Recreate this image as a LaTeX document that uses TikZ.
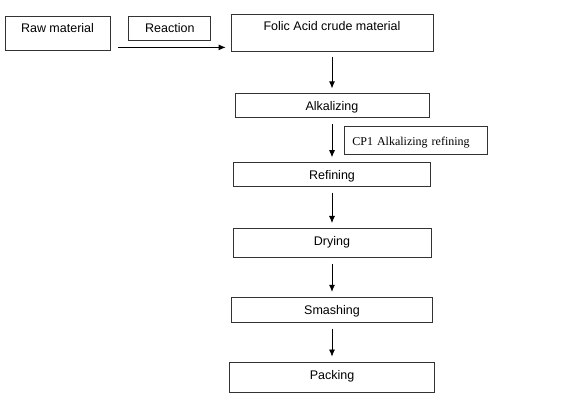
\documentclass[tikz,border=0pt]{standalone}
\usepackage{fontspec}
\setmainfont{Liberation Sans}
\newfontfamily\serifcp{Liberation Serif}
\usetikzlibrary{positioning, arrows.meta}

\begin{document}
\begin{tikzpicture}[x=1pt, y=1pt, node distance={42pt}, >={Latex[length=7pt,width=6pt]},
	box/.style = {draw=black!80, line width=0.8pt, inner sep=3pt, text height=9pt, text depth=0pt,
		font=\fontsize{12.5}{15}\selectfont},
	flow/.style = {->, line width=0.8pt, shorten <=6pt, shorten >=5pt}]
	\useasboundingbox (0,0) rectangle (573,-411);
	\node[box, minimum width=105pt, minimum height=34pt, text depth=10pt] (raw) at (57.5,-33) {Raw material};
	\node[box, minimum width=82pt, minimum height=24pt, anchor=north west] (react) at ([xshift=18pt]raw.north east) {Reaction};
	\node[box, minimum width=202pt, minimum height=37pt, text depth=13pt] (folic) at (332,-32.5) {Folic Acid crude material};
	\node[box, minimum width=194pt, minimum height=24pt] (alk) [below=of folic] {Alkalizing};
	\node[box, minimum height=28pt, text width=127pt, inner xsep=8pt, align=left, anchor=north west,
		font=\serifcp\fontsize{12}{14}\selectfont] (cp1) at ([shift={(12pt,-8pt)}]alk.south) {CP1 Alkalizing refining};
	\node[box, minimum width=197pt, minimum height=24pt] (ref) [below=44pt of alk] {Refining};
	\node[box, minimum width=198pt, minimum height=29pt, text depth=3pt] (dry) [below=41pt of ref] {Drying};
	\node[box, minimum width=201pt, minimum height=25pt] (smash) [below=39pt of dry] {Smashing};
	\node[box, minimum width=205pt, minimum height=30pt, text depth=4pt] (pack) [below=39pt of smash] {Packing};

	\draw[flow, shorten <=8pt] ([yshift=3pt]raw.south east) -- ([yshift=4pt]folic.south west);
	\draw[flow] (folic) -- (alk);
	\draw[flow] (alk) -- (ref);
	\draw[flow] (ref) -- (dry);
	\draw[flow] (dry) -- (smash);
	\draw[flow] (smash) -- (pack);
\end{tikzpicture}
\end{document}
